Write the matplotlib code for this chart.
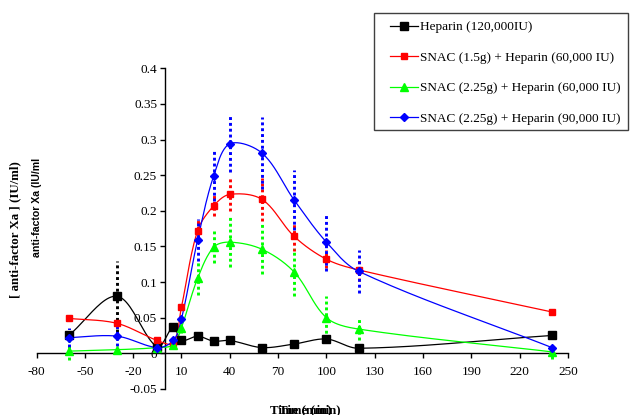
import numpy as np
import matplotlib
matplotlib.use('Agg')
import matplotlib.pyplot as plt
from matplotlib.ticker import FuncFormatter, FixedLocator
from matplotlib.patches import Rectangle

# ---------------- data ----------------
time_min = [-60, -30, -5, 5, 10, 20, 30, 40, 60, 80, 100, 120, 240]

heparin_120k = [0.025, 0.080, 0.009, 0.037, 0.018, 0.024, 0.017, 0.018, 0.008, 0.013, 0.020, 0.007, 0.025]
heparin_120k_err = [0, 0.05, 0, 0, 0, 0, 0, 0, 0, 0, 0, 0, 0]

snac15_hep60k = [0.049, 0.042, 0.018, 0.014, 0.065, 0.172, 0.207, 0.223, 0.216, 0.164, 0.132, 0.117, 0.058]
snac15_hep60k_err = [0, 0, 0, 0, 0, 0.015, 0.015, 0.023, 0.03, 0.02, 0.013, 0.015, 0]

snac225_hep60k = [0.003, 0.005, 0.008, 0.012, 0.036, 0.105, 0.149, 0.156, 0.146, 0.114, 0.050, 0.034, 0.002]
snac225_hep60k_err = [0.013, 0, 0, 0, 0.008, 0.023, 0.022, 0.035, 0.035, 0.033, 0.03, 0.015, 0.01]

snac225_hep90k = [0.022, 0.024, 0.008, 0.018, 0.048, 0.159, 0.249, 0.294, 0.281, 0.215, 0.156, 0.115, 0.008]
snac225_hep90k_err = [0.013, 0.014, 0, 0, 0, 0.03, 0.035, 0.04, 0.05, 0.042, 0.04, 0.03, 0]

labels = ["Heparin (120,000IU)",
          "SNAC (1.5g) + Heparin (60,000 IU)",
          "SNAC (2.25g) + Heparin (60,000 IU)",
          "SNAC (2.25g) + Heparin (90,000 IU)"]

x_ticks = [-80, -50, -20, 10, 40, 70, 100, 130, 160, 190, 220, 250]
y_ticks = [-0.05, 0, 0.05, 0.1, 0.15, 0.2, 0.25, 0.3, 0.35, 0.4]

# ---------------- figure ----------------
W, H = 630, 415
fig = plt.figure(figsize=(W / 100, H / 100), dpi=100)
ax_l, ax_r, ax_t, ax_b = 36.5, 568, 68.3, 388.9
ax = fig.add_axes([ax_l / W, 1 - ax_b / H, (ax_r - ax_l) / W, (ax_b - ax_t) / H])
ax.set_xlim(-80, 250)
ax.set_ylim(-0.05, 0.4)
ax.patch.set_alpha(0)

sx = (ax_r - ax_l) / 330.0
sy = (ax_b - ax_t) / 0.45


def smooth(xs, ys, n=24):
    P = np.column_stack([np.asarray(xs, float) * sx, np.asarray(ys, float) * sy])
    out = [P[0]]
    m = len(P)
    for i in range(m - 1):
        p0 = P[i - 1] if i > 0 else P[i]
        p1 = P[i]
        p2 = P[i + 1]
        p3 = P[i + 2] if i + 2 < m else P[i + 1]
        d0 = np.linalg.norm(p1 - p0)
        d1 = np.linalg.norm(p2 - p1)
        d2 = np.linalg.norm(p3 - p2)
        c1 = p1 + (p2 - p0) * d1 / (3 * (d0 + d1)) if d0 + d1 > 0 else p1
        c2 = p2 - (p3 - p1) * d1 / (3 * (d1 + d2)) if d1 + d2 > 0 else p2
        t = np.linspace(0, 1, n)[1:, None]
        seg = (1 - t) ** 3 * p1 + 3 * (1 - t) ** 2 * t * c1 + 3 * (1 - t) * t ** 2 * c2 + t ** 3 * p2
        out.extend(seg)
    out = np.array(out)
    return out[:, 0] / sx, out[:, 1] / sy


series = [
    (heparin_120k, heparin_120k_err, '#000000', 's', 5.4),
    (snac15_hep60k, snac15_hep60k_err, '#FF0000', 's', 4.8),
    (snac225_hep60k, snac225_hep60k_err, '#00FF00', '^', 5.8),
    (snac225_hep90k, snac225_hep90k_err, '#0000FF', 'D', 4.4),
]

handles = []
for k, (vals, errs, col, mk, ms) in enumerate(series):
    xs, ys = smooth(time_min, vals)
    ax.plot(xs, ys, color=col, lw=0.9, zorder=3 + k, clip_on=False)
    xe = [t for t, e in zip(time_min, errs) if e > 0]
    lo = [v - e for v, e in zip(vals, errs) if e > 0]
    hi = [v + e for v, e in zip(vals, errs) if e > 0]
    if xe:
        ax.vlines(xe, lo, hi, colors=col, linestyles=(0, (1, 1)), linewidth=2.1, zorder=3 + k)
    ax.plot(time_min, vals, linestyle='none', marker=mk, ms=ms, color=col,
            markeredgecolor=col, zorder=8 + k, clip_on=False)
    h, = ax.plot([], [], color=col, lw=0.9, marker=mk, ms=ms, markeredgecolor=col)
    handles.append(h)

# spines
for s in ['top', 'right']:
    ax.spines[s].set_visible(False)
ax.spines['left'].set_position(('data', 0))
ax.spines['bottom'].set_position(('data', 0))
for s in ['left', 'bottom']:
    ax.spines[s].set_linewidth(1.0)
    ax.spines[s].set_color('black')

ax.xaxis.set_major_locator(FixedLocator(x_ticks))
ax.yaxis.set_major_locator(FixedLocator(y_ticks))
ax.yaxis.set_major_formatter(FuncFormatter(lambda v, p: '%g' % round(v, 3)))
ax.xaxis.set_major_formatter(FuncFormatter(lambda v, p: '%g' % v))
ax.tick_params(axis='both', direction='out', length=3.5, width=1.0, colors='black',
               labelsize=9.5)
ax.tick_params(axis='x', pad=6)
ax.tick_params(axis='y', pad=2.5)
for lab in ax.get_xticklabels() + ax.get_yticklabels():
    lab.set_fontfamily('Liberation Serif')

# axis titles
fig.text(15 / W, 1 - 230 / H, '[ anti-factor Xa ] (IU/ml)', rotation=90, ha='center', va='center',
         fontfamily='Liberation Serif', fontweight='bold', fontsize=9.3)
fig.text(37 / W, 1 - 207 / H, 'anti-factor Xa (IU/ml', rotation=90, ha='center', va='center',
         fontfamily='Liberation Sans', fontweight='bold', fontsize=7.6)
fig.text(270 / W, 1 - 410 / H, 'Time (min)', ha='left', va='center',
         fontfamily='Liberation Serif', fontweight='bold', fontsize=9.3)
fig.text(279 / W, 1 - 410 / H, 'Time (min)', ha='left', va='center',
         fontfamily='Liberation Serif', fontweight='bold', fontsize=9.3)

# legend frame
lx0, ly0, lx1, ly1 = 374, 12.7, 628, 130
fig.patches.append(Rectangle((lx0 / W, 1 - ly1 / H), (lx1 - lx0) / W, (ly1 - ly0) / H,
                             transform=fig.transFigure, facecolor='white',
                             edgecolor='#404040', linewidth=1.0, zorder=20))
leg = fig.legend(handles, labels, loc='upper left',
                 bbox_to_anchor=(390 / W, 1 - 21 / H),
                 borderaxespad=0, borderpad=0, frameon=False,
                 prop={'family': 'Liberation Serif', 'size': 9.5},
                 handlelength=2.1, handletextpad=0.15, labelspacing=1.38)
leg.set_zorder(21)

fig.savefig('out.png', dpi=100)
